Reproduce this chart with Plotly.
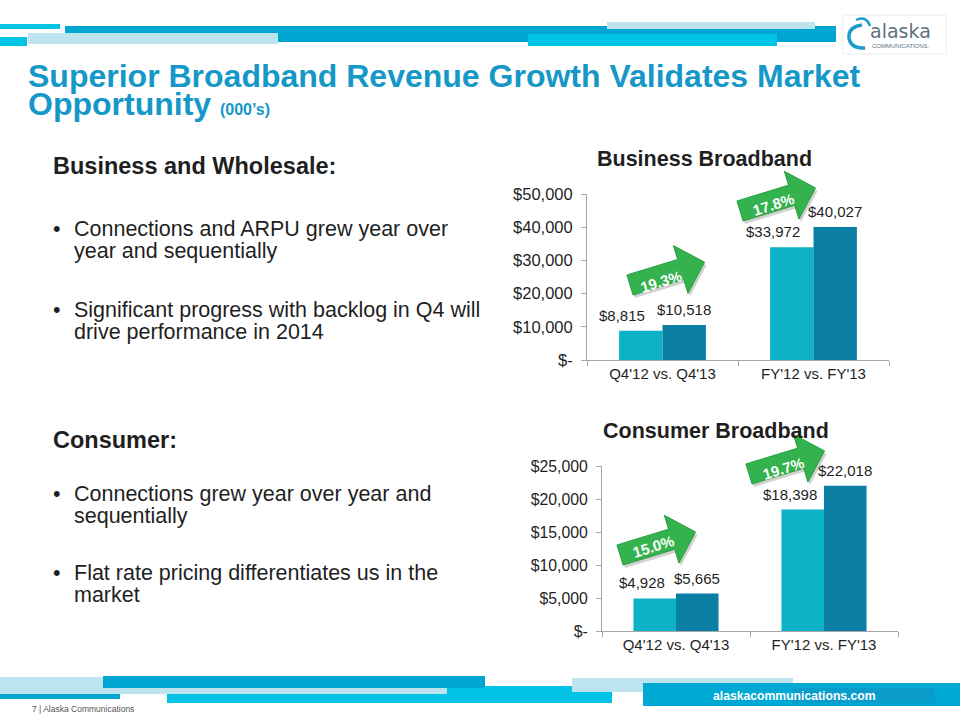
import math
import plotly.graph_objects as go

# ---------------- data ----------------
categories = ["Q4'12 vs. Q4'13", "FY'12 vs. FY'13"]
business_prior = [8815, 33972]
business_current = [10518, 40027]
business_growth = ["19.3%", "17.8%"]
consumer_prior = [4928, 18398]
consumer_current = [5665, 22018]
consumer_growth = ["15.0%", "19.7%"]
business_ticks = [0, 10000, 20000, 30000, 40000, 50000]
business_ticktext = ["$-", "$10,000", "$20,000", "$30,000", "$40,000", "$50,000"]
consumer_ticks = [0, 5000, 10000, 15000, 20000, 25000]
consumer_ticktext = ["$-", "$5,000", "$10,000", "$15,000", "$20,000", "$25,000"]

W, H = 960, 720
FONT = "Liberation Sans, Arial, sans-serif"
LIGHT = "#0cb2c6"
DARK = "#0a7fa3"
TXT = "#1f1f1f"
AXIS = "#a6a6a6"
GREEN = "#33b24d"
TITLE = "#1598c8"


def px(x):
    return x / W


def py(y):
    return 1 - y / H


fig = go.Figure()

# ---------------- bars ----------------
for name, prior, cur, xa, ya in [
    ("biz", business_prior, business_current, "x", "y"),
    ("con", consumer_prior, consumer_current, "x2", "y2"),
]:
    fig.add_trace(go.Bar(x=categories, y=prior, marker=dict(color=LIGHT, line=dict(width=0)),
                         xaxis=xa, yaxis=ya, offsetgroup="a", showlegend=False, hoverinfo="skip"))
    fig.add_trace(go.Bar(x=categories, y=cur, marker=dict(color=DARK, line=dict(width=0)),
                         xaxis=xa, yaxis=ya, offsetgroup="b", showlegend=False, hoverinfo="skip"))

BARGAP = 0.425
OFF = (1 - BARGAP) / 4

annotations = []


def money(v):
    return "${:,}".format(v)


for prior, cur, xr, yr, shift in [
    (business_prior, business_current, "x", "y", -19),
    (consumer_prior, consumer_current, "x2", "y2", -13),
]:
    for i in range(len(categories)):
        annotations.append(dict(x=i - OFF, y=prior[i], xref=xr, yref=yr, text=money(prior[i]),
                                showarrow=False, yanchor="bottom", yshift=5, xshift=shift,
                                font=dict(family=FONT, size=15, color=TXT)))
        annotations.append(dict(x=i + OFF, y=cur[i], xref=xr, yref=yr, text=money(cur[i]),
                                showarrow=False, yanchor="bottom", yshift=5,
                                font=dict(family=FONT, size=15, color=TXT)))

shapes = []


def rect(x0, y0, x1, y1, color):
    shapes.append(dict(type="rect", xref="paper", yref="paper", x0=px(x0), x1=px(x1),
                       y0=py(y1), y1=py(y0), fillcolor=color, line=dict(width=0), layer="above"))


CYAN = "#00c3e6"
MBLUE = "#00a6d1"
LBLUE = "#bde4ee"

# top decoration
rect(65, 26, 836, 42, MBLUE)
rect(28, 33, 278, 44, LBLUE)
rect(0, 24, 60, 29, CYAN)
rect(0, 37, 27, 46, CYAN)
rect(528, 34, 777, 46, CYAN)
rect(607, 22, 815, 29, LBLUE)

# bottom decoration
rect(167, 686, 612, 703, CYAN)
rect(0, 677, 447, 694, LBLUE)
rect(103, 676, 485, 688, MBLUE)
rect(0, 694, 120, 699, MBLUE)
rect(572, 678, 793, 692, LBLUE)
rect(643, 683, 960, 706, "#00a8d4")
rect(792, 688, 935, 703, "#0a9dcb")

# logo
shapes.append(dict(type="rect", xref="paper", yref="paper", x0=px(843), x1=px(946), y0=py(54), y1=py(15),
                   line=dict(color="#ececec", width=1), fillcolor="rgba(0,0,0,0)"))


def pathstr(points):
    return "M " + " L ".join("{:.5f},{:.5f}".format(px(x), py(y)) for x, y in points) + " Z"


def curve(pts):
    (x0, y0), (cx1, cy1), (x1, y1), (cx2, cy2), (x2, y2) = pts
    return "M {:.5f},{:.5f} Q {:.5f},{:.5f} {:.5f},{:.5f} Q {:.5f},{:.5f} {:.5f},{:.5f}".format(
        px(x0), py(y0), px(cx1), py(cy1), px(x1), py(y1), px(cx2), py(cy2), px(x2), py(y2))


shapes.append(dict(type="path", xref="paper", yref="paper",
                   path=curve([(862, 25), (848, 27), (849, 38), (851, 49), (865, 48)]),
                   line=dict(color="#1a9ccc", width=3.5)))
shapes.append(dict(type="path", xref="paper", yref="paper",
                   path="M {:.5f},{:.5f} Q {:.5f},{:.5f} {:.5f},{:.5f}".format(px(856), py(20), px(866), py(15), px(870), py(26)),
                   line=dict(color="#1a9ccc", width=2.5)))
annotations.append(dict(x=px(868), y=py(31), xref="paper", yref="paper", text="alaska", showarrow=False,
                        xanchor="left", yanchor="middle", font=dict(family="DejaVu Sans", size=19, color="#5f7080")))
annotations.append(dict(x=px(870), y=py(46.5), xref="paper", yref="paper", text="COMMUNICATIONS.", showarrow=False,
                        xanchor="left", yanchor="middle", font=dict(family=FONT, size=6, color="#5f7080")))


# ---------------- green arrows ----------------
def arrow(tail, tip_len, angle, label, text_pos):
    tx, ty = tail
    a = math.radians(angle)
    ux, uy = math.cos(a), -math.sin(a)
    nx, ny = math.sin(a), math.cos(a)  # perpendicular (down-right)
    body_h, head_h, head_len = 10.5, 25, 25
    bl = tip_len - head_len
    local = [(0, -body_h), (bl, -body_h), (bl, -head_h), (tip_len, 0), (bl, head_h), (bl, body_h), (0, body_h)]
    pts = [(tx + u * ux + v * nx, ty + u * uy + v * ny) for u, v in local]
    shadow = [(x + 2, y + 3) for x, y in pts]
    shapes.append(dict(type="path", xref="paper", yref="paper", path=pathstr(shadow),
                       fillcolor="rgba(0,0,0,0.18)", line=dict(width=0), layer="above"))
    shapes.append(dict(type="path", xref="paper", yref="paper", path=pathstr(pts),
                       fillcolor=GREEN, line=dict(color="#27a042", width=1), layer="above"))
    annotations.append(dict(x=px(text_pos[0]), y=py(text_pos[1]), xref="paper", yref="paper", text="<b>" + label + "</b>",
                            showarrow=False, textangle=-angle, xanchor="center", yanchor="middle",
                            font=dict(family=FONT, size=15, color="white")))


arrow((630, 285), 78, 17, business_growth[0], (661, 282))
arrow((740, 211), 79, 17, business_growth[1], (773, 204))
arrow((620, 555), 79, 17, consumer_growth[0], (653, 546))
arrow((749, 474), 79, 17, consumer_growth[1], (783, 468))

# ---------------- text ----------------
def text(x, y, s, size, bold=False, color=TXT, anchor="left"):
    annotations.append(dict(x=px(x), y=py(y), xref="paper", yref="paper",
                            text=("<b>" + s + "</b>") if bold else s, showarrow=False,
                            xanchor=anchor, yanchor="middle", font=dict(family=FONT, size=size, color=color)))


text(26, 76, "Superior Broadband Revenue Growth Validates Market", 32, True, TITLE)
text(26, 104, "Opportunity <span style='font-size:16px'>(000’s)</span>", 32, True, TITLE)

text(51, 166, "Business and Wholesale:", 23.5, True)
bullets = [
    (229, ["Connections and ARPU grew year over", "year and sequentially"]),
    (310, ["Significant progress with backlog in Q4 will", "drive performance in 2014"]),
]
text(51, 440, "Consumer:", 23.5, True)
bullets += [
    (494, ["Connections grew year over year and", "sequentially"]),
    (573, ["Flat rate pricing differentiates us in the", "market"]),
]
for y0, lines in bullets:
    text(51, y0, "•", 21.5)
    for k, ln in enumerate(lines):
        text(72, y0 + 22 * k, ln, 21.5)

text(704, 159, "Business Broadband", 21.5, True, anchor="center")
text(716, 431, "Consumer Broadband", 21.5, True, anchor="center")

text(794, 696, "<b>alaskacommunications.com</b>", 12.2, False, "white", anchor="center")
text(30, 709, "7 | Alaska Communications", 8.5, False, "#555555")

# ---------------- axes ----------------
def xax(domain):
    return dict(domain=domain, type="category", showline=True, linecolor=AXIS, linewidth=1,
                ticks="outside", tickson="boundaries", ticklen=5, tickcolor=AXIS,
                tickfont=dict(family=FONT, size=15, color=TXT), showgrid=False, zeroline=False,
                fixedrange=True, automargin=False)


def yax(domain, rng, vals, labels, size):
    return dict(domain=domain, range=rng, tickvals=vals, ticktext=labels, showline=True,
                linecolor=AXIS, linewidth=1, ticks="outside", ticklen=5, tickcolor=AXIS,
                ticklabelstandoff=5,
                tickfont=dict(family=FONT, size=size, color=TXT), showgrid=False, zeroline=False,
                fixedrange=True, automargin=False)


fig.update_layout(
    template="none",
    width=W, height=H, autosize=False,
    margin=dict(l=0, r=0, t=0, b=0, pad=0),
    paper_bgcolor="white", plot_bgcolor="white",
    barmode="group", bargap=BARGAP, bargroupgap=0,
    xaxis=dict(xax([px(587), px(889)]), anchor="y"),
    yaxis=dict(yax([py(360), py(194)], [0, 50000], business_ticks, business_ticktext, 16.5), anchor="x"),
    xaxis2=dict(xax([px(602), px(898)]), anchor="y2"),
    yaxis2=dict(yax([py(631), py(466)], [0, 25000], consumer_ticks, consumer_ticktext, 15.8), anchor="x2"),
    shapes=shapes, annotations=annotations, showlegend=False,
)

fig.write_html("out.html", config={"displayModeBar": False},
               post_script="document.body.style.margin='0px';document.body.style.overflow='hidden';")
